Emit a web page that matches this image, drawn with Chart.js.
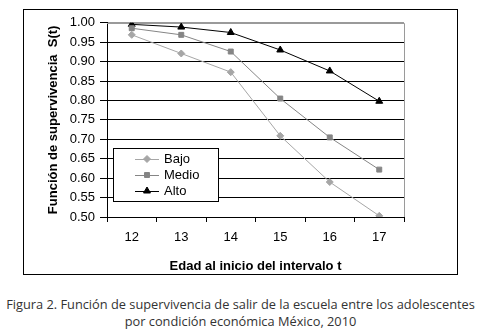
<!DOCTYPE html>
<html><head><meta charset="utf-8">
<script src="https://cdn.jsdelivr.net/npm/chart.js@4/dist/chart.umd.min.js"></script>
<style>
html,body{margin:0;padding:0;background:#fff;width:481px;height:336px;overflow:hidden;}
#box{position:absolute;left:23px;top:9px;width:433px;height:264px;border:1px solid #000;}
#cap{position:absolute;left:0;top:296px;width:481px;text-align:center;font-family:"Open Sans",sans-serif;font-size:12.8px;line-height:17px;color:#333;}
</style></head>
<body>
<div id="box"><canvas id="c" width="433" height="264"></canvas></div>
<div id="cap">Figura 2. Función de supervivencia de salir de la escuela entre los adolescentes<br>por condición económica México, 2010</div>
<script>
const categories = ['12','13','14','15','16','17'];
const bajo  = [0.969, 0.921, 0.873, 0.709, 0.590, 0.503];
const medio = [0.986, 0.969, 0.926, 0.805, 0.705, 0.622];
const alto  = [0.996, 0.989, 0.975, 0.930, 0.876, 0.798];
const seriesNames = ['Bajo','Medio','Alto'];
const yTitle = 'Función de supervivencia  S(t)';
const xTitle = 'Edad al inicio del intervalo t';

const FONT = '"Liberation Sans", Arial, sans-serif';

const legendPlugin = {
  id: 'boxLegend',
  afterDraw(chart) {
    const ctx = chart.ctx;
    const x0 = 89, y0 = 138, w = 105, h = 53;
    ctx.save();
    ctx.fillStyle = '#fff';
    ctx.fillRect(x0, y0, w, h);
    ctx.strokeStyle = '#000';
    ctx.lineWidth = 1;
    ctx.strokeRect(x0 + 0.5, y0 + 0.5, w, h);
    ctx.font = '13px ' + FONT;
    ctx.textBaseline = 'middle';
    chart.data.datasets.forEach((ds, i) => {
      const yy = y0 + 11 + i * 16;
      ctx.strokeStyle = ds.borderColor;
      ctx.lineWidth = 1;
      ctx.beginPath();
      ctx.moveTo(x0 + 22, yy + 0.5);
      ctx.lineTo(x0 + 46, yy + 0.5);
      ctx.stroke();
      ctx.fillStyle = ds.pointBackgroundColor;
      ctx.strokeStyle = ds.pointBorderColor;
      Chart.helpers.drawPoint(ctx, {pointStyle: ds.pointStyle, radius: ds.pointRadius, rotation: 0, borderWidth: 1}, x0 + 34, yy);
      ctx.fillStyle = '#000';
      ctx.fillText(ds.label, x0 + 51, yy);
    });
    ctx.restore();
  }
};

const frame = {
  id: 'frame',
  beforeDatasetsDraw(chart) {
    const a = chart.chartArea, ctx = chart.ctx;
    ctx.save();
    ctx.strokeStyle = '#9a9a9a';
    ctx.lineWidth = 1;
    ctx.beginPath();
    ctx.moveTo(a.left, Math.round(a.top) + 0.5);
    ctx.lineTo(Math.round(a.right) + 0.5, Math.round(a.top) + 0.5);
    ctx.lineTo(Math.round(a.right) + 0.5, a.bottom);
    ctx.stroke();
    ctx.restore();
  }
};

new Chart(document.getElementById('c'), {
  type: 'line',
  data: {
    labels: categories,
    datasets: [
      {label: seriesNames[0], data: bajo, borderColor: '#a6a6a6', backgroundColor: '#a6a6a6', pointBackgroundColor: '#a6a6a6', pointBorderColor: '#a6a6a6', pointStyle: 'rectRot', pointRadius: 3.5, borderWidth: 1, tension: 0},
      {label: seriesNames[1], data: medio, borderColor: '#858585', backgroundColor: '#858585', pointBackgroundColor: '#858585', pointBorderColor: '#858585', pointStyle: 'rect', pointRadius: 3.5, borderWidth: 1, tension: 0},
      {label: seriesNames[2], data: alto, borderColor: '#000', backgroundColor: '#000', pointBackgroundColor: '#000', pointBorderColor: '#000', pointStyle: 'triangle', pointRadius: 4, borderWidth: 1, tension: 0}
    ]
  },
  options: {
    responsive: false,
    animation: false,
    devicePixelRatio: 1,
    layout: {padding: {left: 0, right: 53, top: 10, bottom: 0}},
    plugins: {legend: {display: false}, tooltip: {enabled: false}},
    scales: {
      x: {
        offset: true,
        grid: {offset: true, drawOnChartArea: false, drawTicks: true, tickLength: 5, color: '#000'},
        border: {color: '#000', width: 1},
        ticks: {color: '#000', font: {family: FONT, size: 13}, padding: 8, maxRotation: 0},
        title: {display: true, text: xTitle, color: '#000', font: {family: FONT, size: 13, weight: 'bold'}, padding: {top: 8, bottom: 0}},
        afterFit(s) { s.height = 57; }
      },
      y: {
        min: 0.5, max: 1.0,
        grid: {color: (c) => (c.tick && c.tick.value >= 0.999) ? '#9a9a9a' : '#000', tickColor: '#000', tickLength: 7, drawTicks: true},
        border: {color: '#000', width: 1},
        ticks: {stepSize: 0.05, color: '#000', font: {family: FONT, size: 13}, padding: 5, callback: (v) => v.toFixed(2)},
        title: {display: true, text: yTitle, color: '#000', font: {family: FONT, size: 13, weight: 'bold'}, padding: {top: 22, bottom: 0}},
        afterFit(s) { s.width = 83; }
      }
    }
  },
  plugins: [frame, legendPlugin]
});
</script>
</body></html>
